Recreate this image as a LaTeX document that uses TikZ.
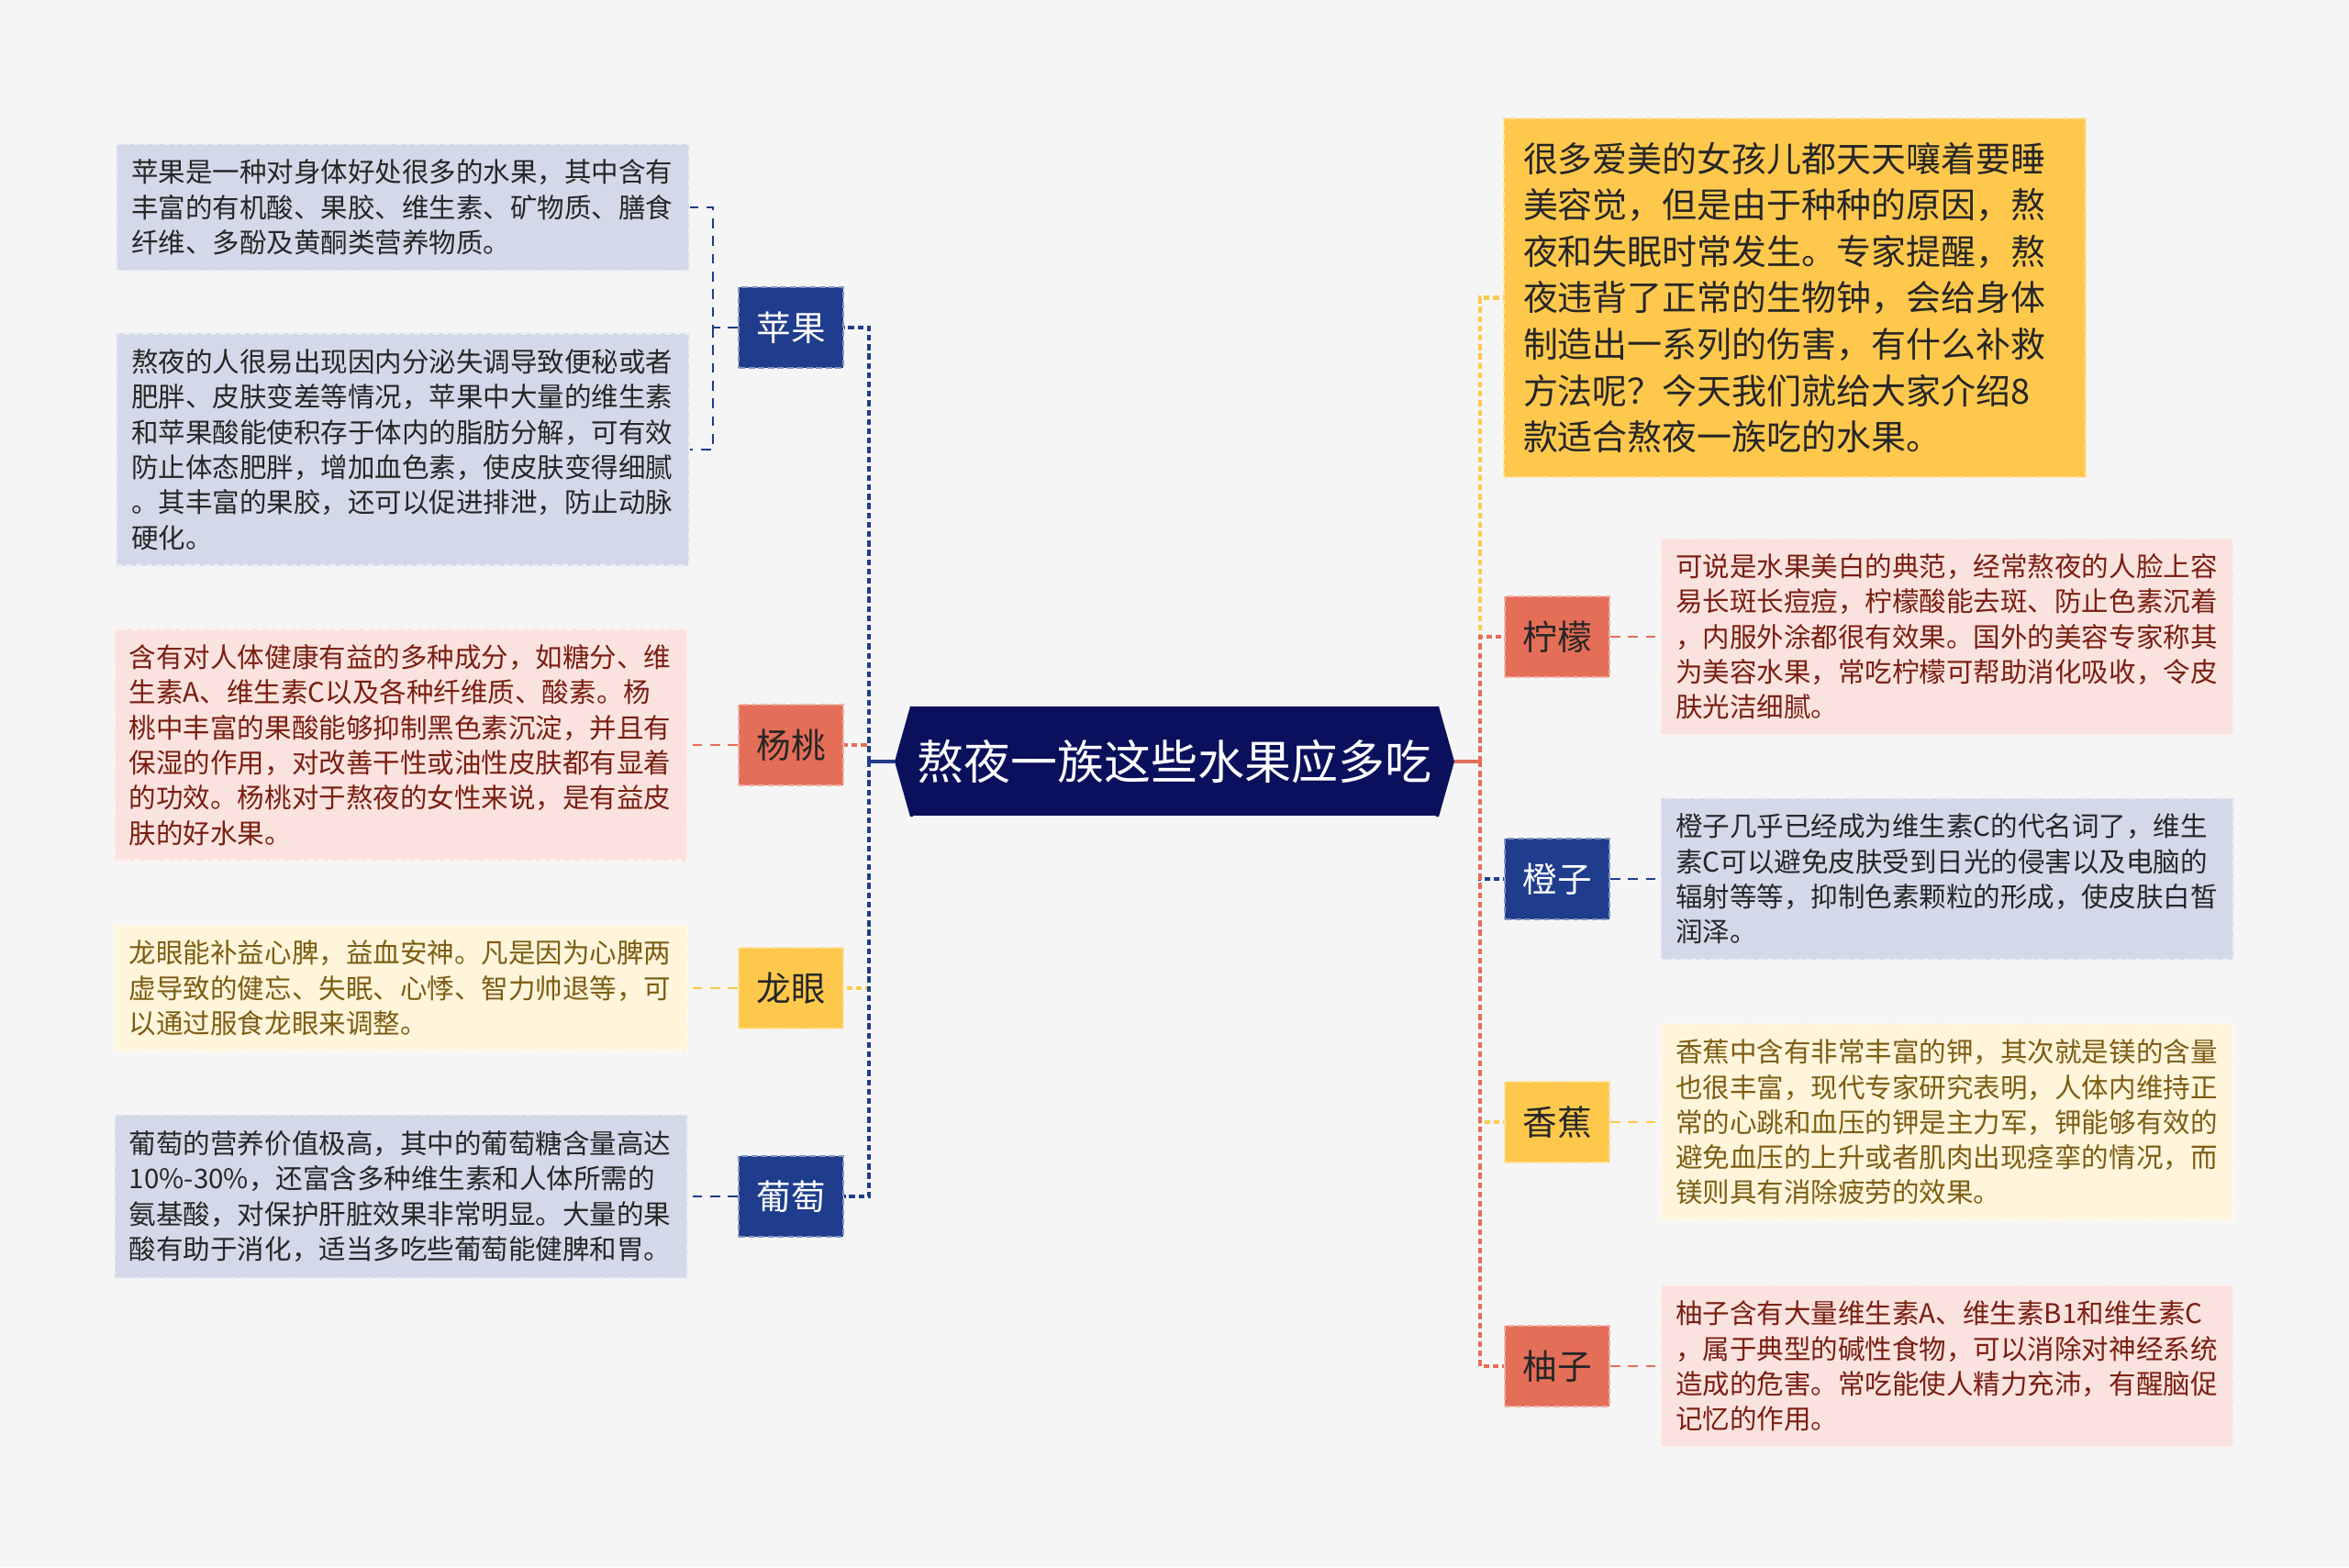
\documentclass[tikz,border=0pt]{standalone}
\usepackage{fontspec}
\setmainfont{Noto Sans CJK SC}
\usepackage{tikz}
\usetikzlibrary{positioning, calc}
\definecolor{bggray}{RGB}{245,245,245}
\definecolor{rootnavy}{RGB}{11,16,92}
\definecolor{fblue}{RGB}{31,61,140}
\definecolor{fred}{RGB}{228,110,88}
\definecolor{fyellow}{RGB}{254,200,76}
\definecolor{dblue}{RGB}{211,217,232}
\definecolor{dred}{RGB}{250,227,222}
\definecolor{dyellow}{RGB}{254,245,219}
\definecolor{tred}{RGB}{122,30,18}
\definecolor{tyellow}{RGB}{125,93,20}

\begin{document}
\begin{tikzpicture}[
    root/.style={rectangle, fill=rootnavy, text=white, minimum width=5.74cm,
                 minimum height=1.19cm, inner xsep=0.07cm, font=\fontsize{14.5pt}{16pt}\selectfont},
    fruit/.style={rectangle, fill=#1, draw=white!45!#1, dash pattern=on 2pt off 1pt,
                  line width=0.6pt, minimum width=1.14cm, minimum height=0.88cm,
                  inner sep=0pt, text=black!85, font=\fontsize{10.7pt}{12pt}\selectfont},
    desc/.style={rectangle, fill=#1, draw=white!55!#1, dash pattern=on 2pt off 1pt,
                 line width=0.6pt, text width=5.92cm, align=left, inner xsep=0.16cm,
                 inner ysep=0.17cm, font=\fontsize{8.4pt}{10.9pt}\selectfont},
    trunk/.style={line width=1.2pt, dash pattern=on 1.8pt off 1.1pt},
    link/.style={line width=0.8pt, dash pattern=on 3pt off 2.5pt}
]
% canvas
\fill[bggray] (0,0) rectangle (25.6,17.08);
\useasboundingbox (0,0) rectangle (25.6,17.08);

% centre
\node[root] (root) at (12.80,8.78) {熬夜一族这些水果应多吃};
\coordinate (rootL) at ($(root.west)+(-0.17,0)$);
\coordinate (rootR) at ($(root.east)+(0.17,0)$);
\fill[rootnavy] ($(root.north west)+(0.03,0)$) -- (root.north west) -- (rootL)
    -- (root.south west) -- ($(root.south west)+(0.03,0)$) -- cycle;
\fill[rootnavy] ($(root.north east)+(-0.03,0)$) -- (root.north east) -- (rootR)
    -- (root.south east) -- ($(root.south east)+(-0.03,0)$) -- cycle;
\coordinate (lhub) at (9.47,8.78);
\coordinate (rhub) at (16.13,8.78);

% left fruits
\node[fruit=fblue, text=white] (apple)     at (8.62,13.51) {苹果};
\node[fruit=fred]              (carambola) at (8.62,8.96)  {杨桃};
\node[fruit=fyellow]           (longan)    at (8.62,6.31)  {龙眼};
\node[fruit=fblue, text=white] (grape)     at (8.62,4.04)  {葡萄};

\node[desc=dblue, text=black!85] (appleA) at (4.39,14.82)
    {苹果是一种对身体好处很多的水果，其中含有\\丰富的有机酸、果胶、维生素、矿物质、膳食\\纤维、多酚及黄酮类营养物质。};
\node[desc=dblue, text=black!85] (appleB) at (4.39,12.18)
    {熬夜的人很易出现因内分泌失调导致便秘或者\\肥胖、皮肤变差等情况，苹果中大量的维生素\\和苹果酸能使积存于体内的脂肪分解，可有效\\防止体态肥胖，增加血色素，使皮肤变得细腻\\。其丰富的果胶，还可以促进排泄，防止动脉\\硬化。};
\node[desc=dred, text=tred, left=0.54cm of carambola] (carambolaD)
    {含有对人体健康有益的多种成分，如糖分、维\\生素A、维生素C以及各种纤维质、酸素。杨\\桃中丰富的果酸能够抑制黑色素沉淀，并且有\\保湿的作用，对改善干性或油性皮肤都有显着\\的功效。杨桃对于熬夜的女性来说，是有益皮\\肤的好水果。};
\node[desc=dyellow, text=tyellow, left=0.54cm of longan] (longanD)
    {龙眼能补益心脾，益血安神。凡是因为心脾两\\虚导致的健忘、失眠、心悸、智力帅退等，可\\以通过服食龙眼来调整。};
\node[desc=dblue, text=black!85, left=0.54cm of grape] (grapeD)
    {葡萄的营养价值极高，其中的葡萄糖含量高达\\10\%-30\%，还富含多种维生素和人体所需的\\氨基酸，对保护肝脏效果非常明显。大量的果\\酸有助于消化，适当多吃些葡萄能健脾和胃。};

% right fruits
\node[rectangle, fill=fyellow, draw=white!45!fyellow, dash pattern=on 2pt off 1pt,
      line width=0.6pt, text width=5.92cm, align=left, inner xsep=0.21cm, inner ysep=0.26cm,
      text=black!85, font=\fontsize{10.8pt}{14.4pt}\selectfont] (intro) at (19.56,13.835)
    {很多爱美的女孩儿都天天嚷着要睡\\美容觉，但是由于种种的原因，熬\\夜和失眠时常发生。专家提醒，熬\\夜违背了正常的生物钟，会给身体\\制造出一系列的伤害，有什么补救\\方法呢？今天我们就给大家介绍8\\款适合熬夜一族吃的水果。};
\node[fruit=fred]              (lemon)  at (16.97,10.14) {柠檬};
\node[fruit=fblue, text=white] (orange) at (16.97,7.50)  {橙子};
\node[fruit=fyellow]           (banana) at (16.97,4.85)  {香蕉};
\node[fruit=fred]              (pomelo) at (16.97,2.19)  {柚子};

\node[desc=dred, text=tred, right=0.54cm of lemon] (lemonD)
    {可说是水果美白的典范，经常熬夜的人脸上容\\易长斑长痘痘，柠檬酸能去斑、防止色素沉着\\，内服外涂都很有效果。国外的美容专家称其\\为美容水果，常吃柠檬可帮助消化吸收，令皮\\肤光洁细腻。};
\node[desc=dblue, text=black!85, right=0.54cm of orange] (orangeD)
    {橙子几乎已经成为维生素C的代名词了，维生\\素C可以避免皮肤受到日光的侵害以及电脑的\\辐射等等，抑制色素颗粒的形成，使皮肤白皙\\润泽。};
\node[desc=dyellow, text=tyellow, right=0.54cm of banana] (bananaD)
    {香蕉中含有非常丰富的钾，其次就是镁的含量\\也很丰富，现代专家研究表明，人体内维持正\\常的心跳和血压的钾是主力军，钾能够有效的\\避免血压的上升或者肌肉出现痉挛的情况，而\\镁则具有消除疲劳的效果。};
\node[desc=dred, text=tred, right=0.54cm of pomelo] (pomeloD)
    {柚子含有大量维生素A、维生素B1和维生素C\\，属于典型的碱性食物，可以消除对神经系统\\造成的危害。常吃能使人精力充沛，有醒脑促\\记忆的作用。};

% connectors, left
\draw[fblue, line width=0.9pt] (rootL) -- (lhub);
\draw[trunk, fred] (lhub) |- (carambola.east);
\draw[trunk, fyellow] (lhub) |- (longan.east);
\draw[trunk, fblue] (lhub) |- (apple.east);
\draw[trunk, fblue] (lhub) |- (grape.east);
\coordinate (appleFork) at (7.77,13.51);
\draw[link, fblue] (apple.west) -- (appleFork) |- (appleA.east);
\draw[link, fblue] (appleFork) |- (appleB.east);
\draw[link, fred] (carambola.west) -- (carambolaD.east);
\draw[link, fyellow] (longan.west) -- (longanD.east);
\draw[link, fblue] (grape.west) -- (grapeD.east);

% connectors, right
\draw[fred, line width=0.9pt] (rootR) -- (rhub);
\draw[trunk, fyellow] (rhub) |- (intro.west);
\draw[trunk, fred] (rhub) |- (lemon.west);
\draw[trunk, fblue] (rhub) |- (orange.west);
\draw[trunk, fyellow] (rhub) |- (banana.west);
\draw[trunk, fred] (rhub) |- (pomelo.west);
\draw[link, fred] (lemon.east) -- (lemonD.west);
\draw[link, fblue] (orange.east) -- (orangeD.west);
\draw[link, fyellow] (banana.east) -- (bananaD.west);
\draw[link, fred] (pomelo.east) -- (pomeloD.west);
\end{tikzpicture}
\end{document}
